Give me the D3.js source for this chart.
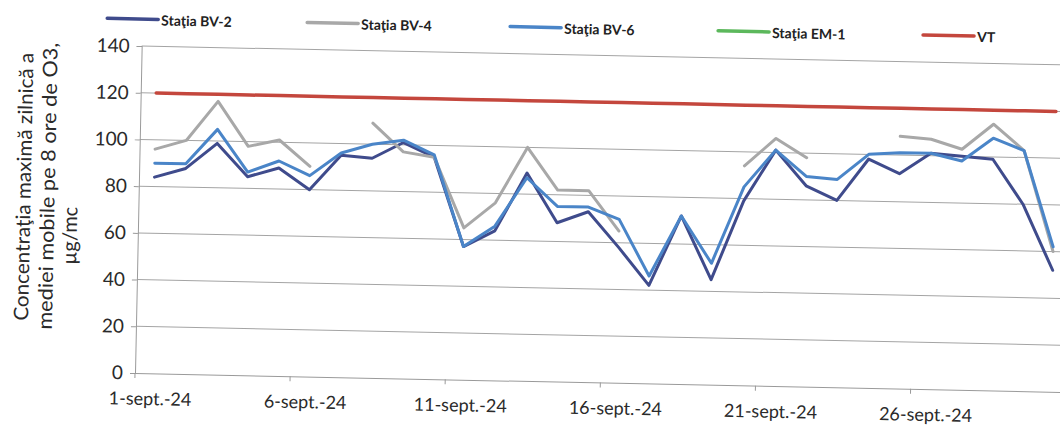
<!DOCTYPE html>
<html><head><meta charset="utf-8">
<script src="https://cdn.jsdelivr.net/npm/d3@7"></script>
<style>html,body{margin:0;padding:0;background:#fff;} svg{display:block;font-family:Lato,"Open Sans",sans-serif;}</style>
</head><body>
<svg id="c" width="1060" height="426"></svg>
<script>
const categories = ["1-sept.-24","2-sept.-24","3-sept.-24","4-sept.-24","5-sept.-24","6-sept.-24","7-sept.-24","8-sept.-24","9-sept.-24","10-sept.-24",
  "11-sept.-24","12-sept.-24","13-sept.-24","14-sept.-24","15-sept.-24","16-sept.-24","17-sept.-24","18-sept.-24","19-sept.-24","20-sept.-24",
  "21-sept.-24","22-sept.-24","23-sept.-24","24-sept.-24","25-sept.-24","26-sept.-24","27-sept.-24","28-sept.-24","29-sept.-24","30-sept.-24"];
const tickLabels = ["1-sept.-24","6-sept.-24","11-sept.-24","16-sept.-24","21-sept.-24","26-sept.-24"];
const yTicks = [0,20,40,60,80,100,120,140];
const seriesNames = ["Staţia BV-2","Staţia BV-4","Staţia BV-6","Staţia EM-1","VT"];
const bv2 = [84,88,99,85,89,80,95,94,101,95,57,64,89,68,73,58,42,72,45,79,101,86,80,98,92,101,100,99,80,52];
const bv4 = [96,100,117,98,101,90,null,109,97,95,65,76,100,82,82,65,null,null,null,94,106,98,null,null,108,107,103,114,103,60];
const bv6 = [90,90,105,87,92,86,96,100,102,96,57,66,87,75,75,70,46,72,52,85,101,90,89,100,101,101,98,108,103,62];
const em1 = [null,null,null,null,null,null,null,null,null,null,null,null,null,null,null,null,null,null,null,null,null,null,null,null,null,null,null,null,null,null];
const vt = [120,120,120,120,120,120,120,120,120,120,120,120,120,120,120,120,120,120,120,120,120,120,120,120,120,120,120,120,120,120];
const colors = ["#3f4b8c","#a8a8a8","#4a85c8","#5cb85c","#c4473d"];
const titleLines = ["Concentraţia maximă zilnică a","mediei mobile pe 8 ore de O3,","µg/mc"];

const seriesData = [bv2, bv4, bv6, em1, vt];
const svg = d3.select("#c");
svg.append("rect").attr("width",1060).attr("height",426).attr("fill","#fff");
const root = svg.append("g").attr("transform","rotate(1.17,135,373)");

const x = d3.scaleBand().domain(categories).range([135, 135 + 30*31.03]).padding(0);
const y = d3.scaleLinear().domain([0,140]).range([373,46]);
const cx = c => x(c) + x.bandwidth()/2;

// gridlines
root.append("g").selectAll("line").data(yTicks.filter(d => d > 0)).join("line")
  .attr("x1", 135).attr("x2", x.range()[1])
  .attr("y1", d => y(d)).attr("y2", d => y(d))
  .attr("stroke", "#a4a4a4").attr("stroke-width", 1);

// y axis
const ya = root.append("g").attr("transform","translate(135,0)")
  .call(d3.axisLeft(y).tickValues(yTicks).tickSize(5).tickPadding(7));
ya.selectAll("path,line").attr("stroke","#9a9a9a");
ya.selectAll("text").attr("font-size",19).attr("fill","#2a2a2a").attr("font-family","Lato");

// x axis
const xa = root.append("g").attr("transform","translate(0,373)")
  .call(d3.axisBottom(x).tickValues(tickLabels).tickSize(0).tickPadding(19));
xa.select("path").attr("stroke","#9a9a9a");
xa.selectAll("text").attr("font-size",18).attr("fill","#2a2a2a").attr("font-family","Lato");
// tick marks at category boundaries
root.append("g").selectAll("line").data(categories.filter((c,i) => i % 5 === 0)).join("line")
  .attr("x1", c => x(c)).attr("x2", c => x(c)).attr("y1", 373).attr("y2", 378)
  .attr("stroke","#9a9a9a");

// series lines
const line = d3.line().defined(d => d.v != null).x(d => cx(d.c)).y(d => y(d.v));
seriesData.forEach((s, k) => {
  root.append("path")
    .datum(categories.map((c, i) => ({c, v: s[i]})))
    .attr("d", line).attr("fill","none")
    .attr("stroke", colors[k]).attr("stroke-width", k === 4 ? 3.5 : 3)
    .attr("stroke-linejoin","round").attr("stroke-linecap","round");
});

// legend
const legX = [100, 300, 503, 711, 916];
const leg = root.append("g").selectAll("g").data(seriesNames).join("g")
  .attr("transform", (d, i) => `translate(${legX[i]},19)`);
leg.append("line").attr("x1",0).attr("x2",51).attr("y1",0).attr("y2",0)
  .attr("stroke", (d,i) => colors[i]).attr("stroke-width",3.5).attr("stroke-linecap","round");
leg.append("text").attr("x",54).attr("y",6).text(d => d)
  .attr("font-size",14).attr("font-weight","bold").attr("fill","#222").attr("font-family","Lato");

// y title
const tPos = [[27,189,268],[51,188,287],[74,237,null]];
titleLines.forEach((t, i) => {
  const tt = root.append("text")
    .attr("transform", `translate(${tPos[i][0]},${tPos[i][1]}) rotate(-90)`)
    .attr("text-anchor","middle").attr("font-size",20).attr("fill","#2a2a2a")
    .attr("font-family","Lato")
    .text(t);
  if (tPos[i][2]) tt.attr("textLength", tPos[i][2]).attr("lengthAdjust","spacingAndGlyphs");
});
</script>
</body></html>
